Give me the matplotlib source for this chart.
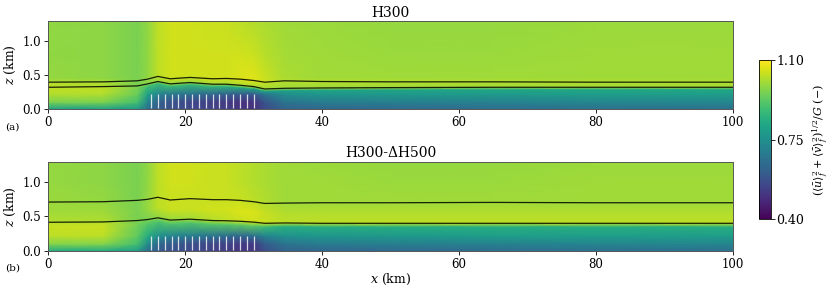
import matplotlib
matplotlib.use("Agg")
import matplotlib.pyplot as plt
import numpy as np

plt.rcParams['font.family'] = ['DejaVu Serif']
plt.rcParams['mathtext.fontset'] = 'dejavuserif'

# x columns (km) of the coarse field and contour lines
xs = [0, 8, 13, 14.5, 16, 17.8, 20.7, 24, 26, 28, 30, 31.6, 34.5, 40, 50, 65, 80, 100]

# black contour lines (km)
upper_a = [0.395, 0.40, 0.415, 0.44, 0.48, 0.445, 0.465, 0.445, 0.45, 0.44, 0.42, 0.395, 0.415, 0.405, 0.40, 0.40, 0.395, 0.395]
lower_a = [0.32, 0.33, 0.34, 0.37, 0.405, 0.37, 0.39, 0.365, 0.365, 0.35, 0.33, 0.295, 0.305, 0.31, 0.315, 0.32, 0.32, 0.32]
upper_b = [0.71, 0.715, 0.735, 0.75, 0.78, 0.74, 0.76, 0.745, 0.745, 0.735, 0.715, 0.69, 0.695, 0.70, 0.70, 0.705, 0.70, 0.70]
lower_b = [0.415, 0.42, 0.44, 0.455, 0.48, 0.447, 0.46, 0.44, 0.437, 0.43, 0.417, 0.40, 0.405, 0.40, 0.40, 0.40, 0.40, 0.40]

# speed ratio, rows: z=0, 0.1, 0.22, below lower line, lower line, upper line, above upper, 0.8, 1.3
field_a = [
    [0.80, 0.80, 0.78, 0.66, 0.60, 0.58, 0.56, 0.54, 0.53, 0.51, 0.50, 0.56, 0.62, 0.63, 0.64, 0.65, 0.66, 0.66],
    [0.96, 0.96, 0.89, 0.72, 0.62, 0.58, 0.55, 0.53, 0.52, 0.50, 0.50, 0.58, 0.67, 0.69, 0.70, 0.71, 0.72, 0.72],
    [1.02, 1.02, 0.94, 0.80, 0.72, 0.68, 0.66, 0.63, 0.62, 0.60, 0.60, 0.68, 0.75, 0.77, 0.78, 0.78, 0.79, 0.79],
    [1.03, 1.03, 0.96, 0.89, 0.88, 0.88, 0.87, 0.86, 0.85, 0.84, 0.82, 0.80, 0.80, 0.81, 0.81, 0.82, 0.82, 0.82],
    [1.03, 1.02, 0.96, 0.97, 0.99, 0.99, 0.99, 1.00, 1.00, 1.01, 1.01, 1.00, 1.00, 1.00, 1.00, 1.00, 1.00, 1.00],
    [1.02, 1.01, 0.96, 0.99, 1.03, 1.04, 1.04, 1.05, 1.05, 1.06, 1.06, 1.04, 1.02, 1.02, 1.02, 1.02, 1.02, 1.02],
    [0.99, 0.98, 0.96, 0.985, 1.03, 1.05, 1.05, 1.05, 1.05, 1.06, 1.065, 1.045, 1.01, 1.00, 1.00, 1.00, 1.00, 1.00],
    [0.985, 0.98, 0.96, 0.985, 1.03, 1.05, 1.05, 1.05, 1.05, 1.05, 1.045, 1.025, 1.005, 1.00, 0.995, 0.995, 1.00, 1.00],
    [0.985, 0.98, 0.96, 0.985, 1.03, 1.05, 1.05, 1.04, 1.04, 1.03, 1.02, 1.01, 1.00, 0.995, 0.99, 0.99, 0.995, 0.995],
]
# rows: z=0, 0.1, 0.22, below lower line, lower line, between lines, upper line, 1.0, 1.3
field_b = [
    [0.83, 0.83, 0.79, 0.66, 0.60, 0.58, 0.56, 0.54, 0.53, 0.51, 0.51, 0.57, 0.62, 0.63, 0.64, 0.65, 0.66, 0.66],
    [0.97, 0.97, 0.89, 0.74, 0.64, 0.60, 0.57, 0.55, 0.54, 0.52, 0.52, 0.60, 0.67, 0.69, 0.70, 0.71, 0.72, 0.72],
    [1.03, 1.03, 0.93, 0.84, 0.76, 0.72, 0.70, 0.67, 0.66, 0.64, 0.66, 0.72, 0.76, 0.77, 0.78, 0.79, 0.79, 0.79],
    [1.04, 1.04, 0.95, 0.92, 0.91, 0.91, 0.91, 0.92, 0.92, 0.93, 0.93, 0.88, 0.84, 0.84, 0.84, 0.84, 0.84, 0.84],
    [1.02, 1.02, 0.96, 0.96, 0.98, 0.99, 1.00, 1.02, 1.03, 1.04, 1.05, 1.04, 1.03, 1.03, 1.03, 1.03, 1.03, 1.03],
    [1.00, 1.00, 0.96, 0.99, 1.03, 1.04, 1.04, 1.05, 1.05, 1.06, 1.06, 1.04, 1.02, 1.02, 1.02, 1.02, 1.02, 1.02],
    [0.995, 0.99, 0.96, 0.99, 1.03, 1.04, 1.04, 1.04, 1.04, 1.04, 1.03, 1.02, 1.00, 1.00, 1.00, 1.00, 1.00, 1.00],
    [0.99, 0.98, 0.96, 0.985, 1.03, 1.05, 1.05, 1.04, 1.04, 1.03, 1.02, 1.01, 1.00, 1.00, 0.995, 0.995, 1.00, 1.00],
    [0.99, 0.98, 0.96, 0.985, 1.03, 1.05, 1.05, 1.04, 1.04, 1.03, 1.02, 1.01, 1.00, 0.995, 0.99, 0.99, 0.995, 0.995],
]

turbine_x = np.arange(15, 31, 1)
turbine_top = 0.22
titles = ['H300', 'H300-ΔH500']

fig = plt.figure(figsize=(8.3, 2.91), dpi=100)
ax_a = fig.add_axes([0.0582, 0.6254, 0.825, 0.3034])
ax_b = fig.add_axes([0.0582, 0.1385, 0.825, 0.306])
cax = fig.add_axes([0.9148, 0.2474, 0.0137, 0.5464])


def row_heights(lower, upper, second):
    lo = np.array(lower)
    up = np.array(upper)
    n = len(lo)
    if second:
        rows = [np.zeros(n), np.full(n, 0.1), np.full(n, 0.22), lo - 0.05, lo,
                (lo + up) / 2, up, np.full(n, 1.0), np.full(n, 1.3)]
    else:
        rows = [np.zeros(n), np.full(n, 0.1), np.full(n, 0.22), lo - 0.03, lo,
                up, up + 0.06, np.full(n, 0.8), np.full(n, 1.3)]
    return np.array(rows)


panels = [(ax_a, field_a, lower_a, upper_a, False),
          (ax_b, field_b, lower_b, upper_b, True)]
for i, (ax, fld, lo, up, second) in enumerate(panels):
    Z = row_heights(lo, up, second)
    X = np.tile(np.array(xs, dtype=float), (Z.shape[0], 1))
    mesh = ax.pcolormesh(X, Z, np.array(fld), cmap='viridis', vmin=0.4, vmax=1.1,
                         shading='gouraud', rasterized=True)
    ax.plot(xs, up, color='black', lw=0.9, alpha=0.85)
    ax.plot(xs, lo, color='black', lw=0.9, alpha=0.85)
    ax.vlines(turbine_x, 0.01, turbine_top, color='white', lw=0.9, alpha=0.8)
    ax.set_xlim(0, 100)
    ax.set_ylim(0, 1.3)
    ax.set_xticks([0, 20, 40, 60, 80, 100])
    ax.set_yticks([0.0, 0.5, 1.0])
    ax.tick_params(labelsize=8.5, length=3, width=0.6, pad=2)
    for s in ax.spines.values():
        s.set_color('#555555')
        s.set_linewidth(0.7)
    ax.set_title(titles[i], fontsize=10, pad=3)
    ax.set_ylabel('$z$ (km)', fontsize=9, labelpad=3)

fig.text(0.006, 0.563, '(a)', fontsize=7.5, va='center')
fig.text(0.006, 0.078, '(b)', fontsize=7.5, va='center')
ax_b.set_xlabel('$x$ (km)', fontsize=9, labelpad=1)

cb = fig.colorbar(mesh, cax=cax, ticks=[0.40, 0.75, 1.10])
cb.ax.set_yticklabels(['0.40', '0.75', '1.10'])
cb.ax.tick_params(labelsize=9, length=3, width=0.6, pad=1)
cb.outline.set_linewidth(0.6)
cb.set_label(r'$(\langle\bar{u}\rangle_f^2+\langle\bar{v}\rangle_f^2)^{1/2}/G$ (−)',
             fontsize=8, labelpad=5)

fig.savefig('out.png', dpi=100)
